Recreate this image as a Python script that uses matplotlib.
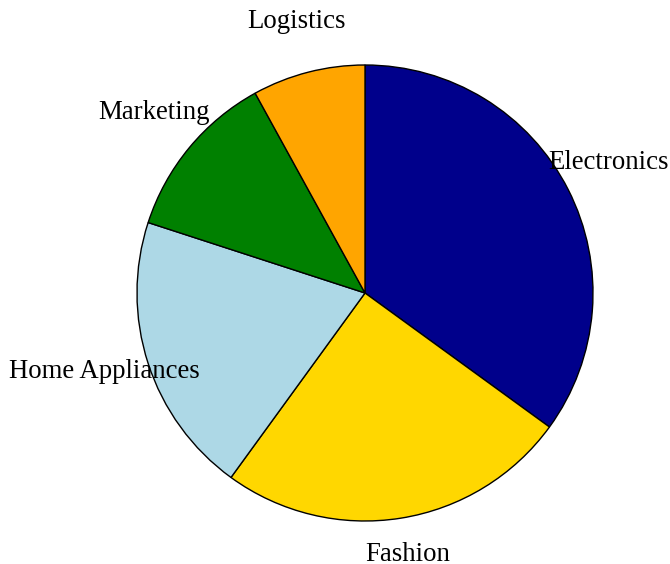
import matplotlib
matplotlib.use("Agg")
import matplotlib.pyplot as plt
from matplotlib.transforms import offset_copy

categories = ["Electronics", "Fashion", "Home Appliances", "Marketing", "Logistics"]
values = [35, 25, 20, 12, 8]
colors = ["#00008B", "#FFD700", "#ADD8E6", "#008000", "#FFA500"]

plt.rcParams['font.family'] = ['Liberation Serif', 'DejaVu Serif']

fig = plt.figure(figsize=(6.7, 5.64), dpi=100)
R = 228
cx, cy = 365, 293
half = R * 1.25
ax = fig.add_axes([(cx - half) / 670, (564 - cy - half) / 564, 2 * half / 670, 2 * half / 564])
wedges, texts = ax.pie(values, labels=categories, colors=colors, startangle=90,
                       counterclock=False, labeldistance=1.2,
                       wedgeprops=dict(edgecolor="black", linewidth=1),
                       textprops=dict(fontsize=19.3))
for t in texts:
    dy = 9 if t.get_text() == "Fashion" else 6
    t.set_horizontalalignment('center')
    t.set_verticalalignment('center')
    t.set_transform(offset_copy(ax.transData, fig=fig, x=0, y=dy, units='dots'))
    t.set_zorder(5)
    t.set_clip_on(False)
ax.set_xlim(-1.25, 1.25)
ax.set_ylim(-1.25, 1.25)
ax.set_aspect('equal')
ax.axis('off')
fig.savefig("out.png", dpi=100)
